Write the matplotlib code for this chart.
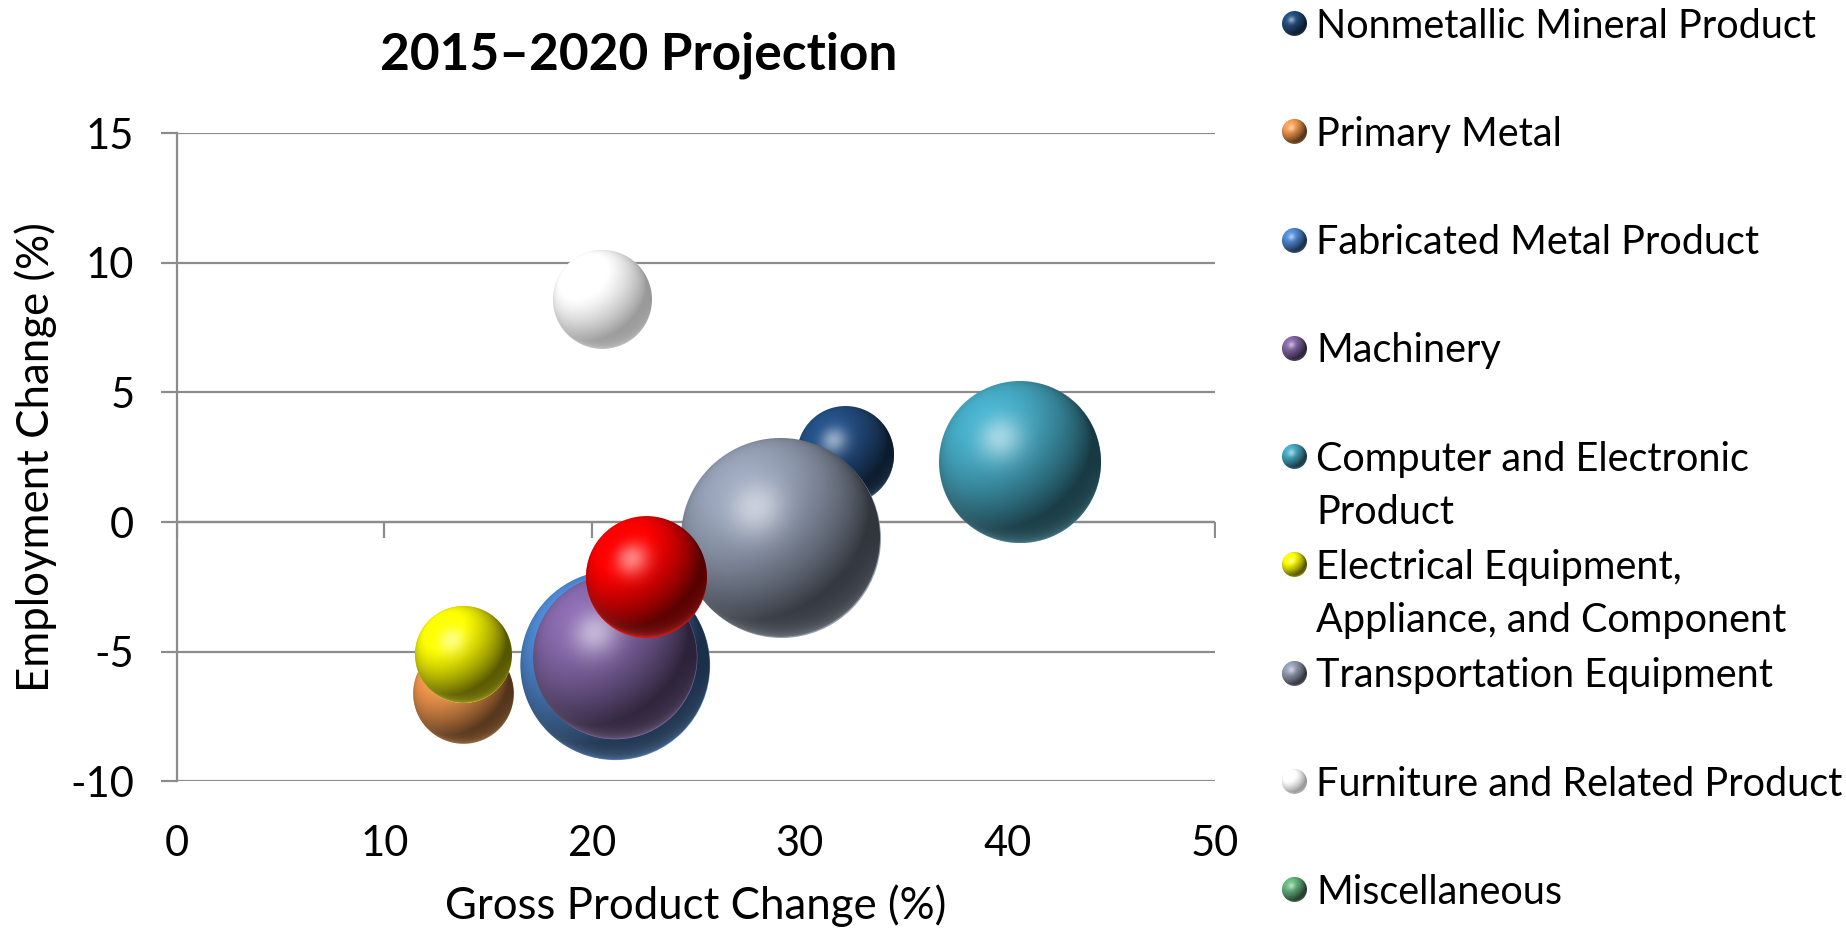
import numpy as np
import matplotlib
matplotlib.use("Agg")
import matplotlib.pyplot as plt
from matplotlib.offsetbox import OffsetImage, AnnotationBbox
from matplotlib.colors import to_rgb
from matplotlib.markers import TICKDOWN

plt.rcParams['font.family'] = ['Lato', 'DejaVu Sans']
plt.rcParams['axes.unicode_minus'] = False

# ---------------- data ----------------
categories = [
    "Nonmetallic Mineral Product",
    "Primary Metal",
    "Fabricated Metal Product",
    "Machinery",
    "Computer and Electronic\nProduct",
    "Electrical Equipment,\nAppliance, and Component",
    "Transportation Equipment",
    "Furniture and Related Product",
    "Miscellaneous",
]
gross_product_change = [32.2, 13.8, 21.1, 21.1, 40.6, 13.8, 29.1, 20.5, 22.6]
employment_change = [2.6, -6.6, -5.5, -5.2, 2.3, -5.1, -0.6, 8.6, -2.1]
bubble_size = [94, 101, 358, 268, 259, 94, 396, 98, 146]
bubble_colors = ["#234E82", "#F69A4E", "#4F8BD6", "#8467A8", "#45A8C2",
                 "#FFFF00", "#939EB3", "#FFFFFF", "#FF0000"]
legend_colors = ["#234E82", "#F69A4E", "#4F8BD6", "#8467A8", "#45A8C2",
                 "#FFFF00", "#939EB3", "#FFFFFF", "#66B67E"]

x_ticks = [0, 10, 20, 30, 40, 50]
y_ticks = [-10, -5, 0, 5, 10, 15]

title = "2015\u20132020 Projection"
x_label = "Gross Product Change (%)"
y_label = "Employment Change (%)"

GRID = "#8C8C8C"


def sphere_image(color, d):
    base = np.array(to_rgb(color))
    n = int(np.ceil(d)) + 2
    c = (n - 1) / 2.0
    r = d / 2.0
    yy, xx = np.mgrid[0:n, 0:n]
    u = (xx - c) / r
    v = (c - yy) / r
    rr = u ** 2 + v ** 2
    nz = np.sqrt(np.clip(1 - rr, 0, 1))
    L = np.array([-0.45, 0.55, 0.70])
    L = L / np.linalg.norm(L)
    ndl = np.clip(u * L[0] + v * L[1] + nz * L[2], 0, 1)
    white = np.all(base > 0.95)
    amb = 0.6 if white else 0.34
    shade = amb + (1.08 - amb) * ndl
    col = base[None, None, :] * shade[..., None]
    H = L + np.array([0, 0, 1.0])
    H = H / np.linalg.norm(H)
    ndh = np.clip(u * H[0] + v * H[1] + nz * H[2], 0, 1)
    spec = (ndh ** 25) * (0.25 if white else 0.5)
    col = col + (1 - col) * spec[..., None]
    rim = ((1 - nz) ** 2) * np.clip(-v, 0, 1) * 0.55
    light = base * 0.65 + 0.35
    col = col + (light[None, None, :] - col) * rim[..., None]
    col = np.clip(col, 0, 1)
    alpha = np.clip((1 - np.sqrt(rr)) * r + 0.5, 0, 1)
    return np.dstack([col, alpha])


fig = plt.figure(figsize=(18.46, 9.34), dpi=100)
fig.patch.set_facecolor("white")

ax = fig.add_axes([0.0957, 0.1633, 0.5625, 0.6943])
ax.set_xlim(0, 50)
ax.set_ylim(-10, 15)
ax.set_xticks(x_ticks)
ax.set_yticks(y_ticks)
ax.set_axisbelow(True)
ax.yaxis.grid(True, color=GRID, lw=1.6)
ax.xaxis.grid(False)
for s in ["top", "right", "bottom"]:
    ax.spines[s].set_visible(False)
ax.spines["left"].set_color(GRID)
ax.spines["left"].set_linewidth(1.6)
ax.tick_params(axis="y", length=11.5, width=1.6, color=GRID, direction="out",
               pad=19, labelsize=30)
ax.tick_params(axis="x", length=0, pad=31, labelsize=30)

# horizontal axis crossing at y = 0 with outward tick marks
ax.axhline(0, color=GRID, lw=1.6, zorder=1)
ax.plot(x_ticks, [0] * len(x_ticks), ls="none", marker=TICKDOWN, ms=11.5,
        mew=1.6, color=GRID, zorder=1)

# bubbles (diameter in pixels proportional to sqrt(size))
k = 10.0
for i, (x, y, s, col) in enumerate(zip(gross_product_change, employment_change,
                                        bubble_size, bubble_colors)):
    d = k * np.sqrt(s)
    ax.scatter([x], [y], s=(d * 0.72) ** 2, color=col, zorder=3 + 2 * i,
               linewidths=0)
    im = OffsetImage(sphere_image(col, d), zoom=1, dpi_cor=False)
    ab = AnnotationBbox(im, (x, y), xycoords="data", frameon=False,
                        pad=0, box_alignment=(0.5, 0.5))
    ab.set_zorder(4 + 2 * i)
    ax.add_artist(ab)

ax.set_title(title, fontsize=37, fontweight="bold", x=0.445, y=1.0, pad=46)
ax.set_xlabel(x_label, fontsize=31.5, labelpad=16)
ax.set_ylabel(y_label, fontsize=31.5, labelpad=10)

# legend drawn in an overlay axis with pixel coordinates
lax = fig.add_axes([0, 0, 1, 1], zorder=10)
lax.set_xlim(0, 1846)
lax.set_ylim(934, 0)
lax.axis("off")
entry_gap = 108.3
line_gap = 53
y0 = 23.5
for i, (lab, col) in enumerate(zip(categories, legend_colors)):
    yc = y0 + i * entry_gap
    im = OffsetImage(sphere_image(col, 25), zoom=1, dpi_cor=False)
    ab = AnnotationBbox(im, (1294, yc), xycoords="data", frameon=False, pad=0)
    lax.add_artist(ab)
    for j, line in enumerate(lab.split("\n")):
        lax.text(1316, yc + 14 + j * line_gap, line, fontsize=28.5,
                 va="baseline", ha="left")

fig.savefig("out.png", dpi=100, facecolor="white")
